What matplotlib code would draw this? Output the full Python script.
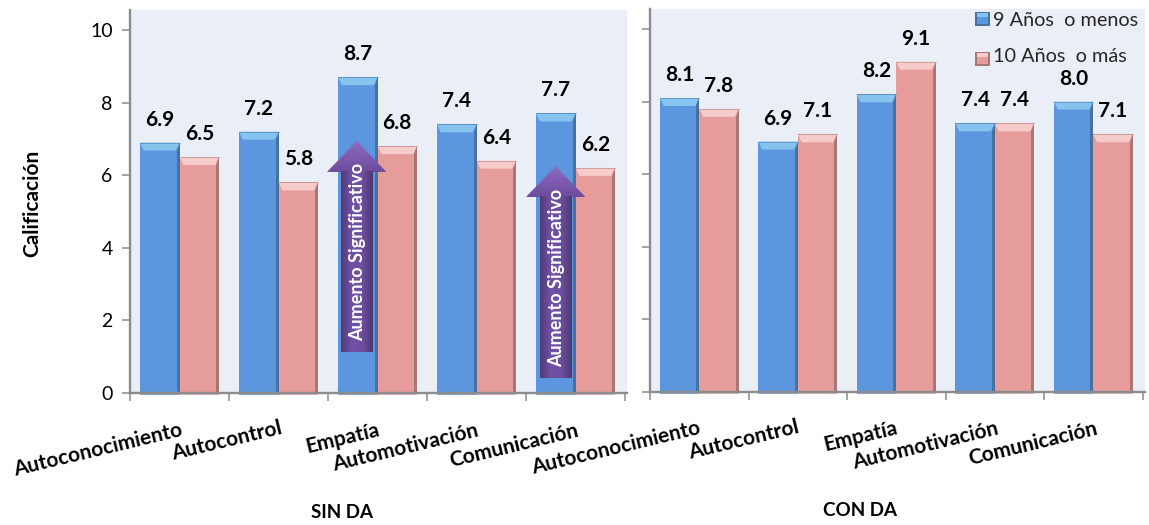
from matplotlib.colors import LinearSegmentedColormap
from matplotlib.patches import Polygon, Rectangle
from numpy import linspace

import matplotlib.pyplot as plt

plt.rcParams['font.family'] = ['Lato', 'DejaVu Sans']

W, H = 1149, 525

CATEGORIES = ['Autoconocimiento', 'Autocontrol', 'Empatía', 'Automotivación', 'Comunicación']
TICKS = [0, 2, 4, 6, 8, 10]
SERIES_NAMES = ['9 Años  o menos', '10 Años  o más']

SIN_DA_MENOS = [6.9, 7.2, 8.7, 7.4, 7.7]
SIN_DA_MAS = [6.5, 5.8, 6.8, 6.4, 6.2]
CON_DA_MENOS = [8.1, 6.9, 8.2, 7.4, 8.0]
CON_DA_MAS = [7.8, 7.1, 9.1, 7.4, 7.1]

BLUE = {'face': '#5B96DE', 'top': '#86C4EF', 'side': '#47719F', 'base': '#7FA6D6'}
RED = {'face': '#E59C9A', 'top': '#F6CBC9', 'side': '#A87674', 'base': '#E8B4B2'}

# label end offsets in pixels from each group's centre, below the axis
LEFT_LABEL_OFFSETS = [(3, -37), (3, -35), (2, -37), (2, -37), (3, -37)]
RIGHT_LABEL_OFFSETS = [(1, -36), (1, -35), (1, -36), (3, -36), (4, -36)]

BEVEL_H = 0.22
BEVEL_X = 0.04
SIDE_W = 0.03
BAR_W = 0.4
PX_PER_UNIT = 36.3


def fig_xy(x, y):
    return x / W, 1 - y / H


def add_axes(fig, left, right, top, bottom, group_px):
    ax = fig.add_axes([left / W, 1 - bottom / H, (right - left) / W, (bottom - top) / H])
    ax.set_facecolor('#EAEFF7')
    ax.set_xlim(0, (right - left) / group_px)
    ax.set_ylim(0, (bottom - top) / PX_PER_UNIT)
    ax.set_yticks(TICKS)
    ax.set_xticks(range(6))
    ax.set_xticklabels([])
    ax.tick_params(axis='both', length=5.5, width=1.1, color='#8C8C8C', labelsize=14, pad=7)
    for side in ['top', 'right']:
        ax.spines[side].set_visible(False)
    for side in ['left', 'bottom']:
        ax.spines[side].set_color('#8C8C8C')
        ax.spines[side].set_linewidth(1.7)
        ax.spines[side].set_zorder(6)
    return ax


def draw_bar(ax, x, value, colors):
    """Flat bar with a lighter bevel on top and a dark strip on its right edge."""
    ax.bar(x, value, BAR_W, align='edge', color=colors['face'], zorder=2)
    # small lip that hangs under the axis line
    ax.bar(x, -0.06, BAR_W, align='edge', color=colors['base'], zorder=2, clip_on=False)
    ax.add_patch(Polygon(
        [(x, value), (x + BAR_W, value),
         (x + BAR_W - BEVEL_X, value - BEVEL_H), (x + BEVEL_X, value - BEVEL_H)],
        facecolor=colors['top'], edgecolor='none', zorder=3
    ))
    ax.add_patch(Polygon(
        [(x + BAR_W, value), (x + BAR_W, 0), (x + BAR_W - SIDE_W, 0),
         (x + BAR_W - SIDE_W, value - BEVEL_H)],
        facecolor=colors['side'], edgecolor='none', zorder=3
    ))
    ax.plot([x, x + BAR_W], [value, value], color=colors['side'], lw=0.6, alpha=0.6, zorder=4)
    ax.annotate(
        f'{value:.1f}', (x + BAR_W / 2, value), xytext=(0, 23),
        textcoords='offset pixels', ha='center', va='center',
        fontsize=15, fontweight='bold', color='black', zorder=7
    )


def draw_panel(ax, menos, mas, offsets):
    for i, (a, b) in enumerate(zip(menos, mas)):
        draw_bar(ax, i + 0.5 - BAR_W, a, BLUE)
        draw_bar(ax, i + 0.5, b, RED)
    for i, name in enumerate(CATEGORIES):
        ax.annotate(
            name, (i + 0.5, 0), xytext=offsets[i], textcoords='offset pixels',
            ha='right', va='center', rotation=13.5, rotation_mode='anchor',
            fontsize=15, fontweight='bold', annotation_clip=False
        )


def draw_arrow(ax, centre, tip, base, bottom):
    """Purple up arrow: vertical gradient on the head, side-to-side shading on the shaft."""
    head = 0.3
    body = 0.16
    head_shape = Polygon(
        [(centre, tip), (centre + head, base), (centre - head, base)],
        transform=ax.transData, facecolor='none', edgecolor='none'
    )
    ax.add_patch(head_shape)
    head_cmap = LinearSegmentedColormap.from_list('head', ['#8F6CC0', '#7E5BB0', '#6D4C9E'])
    img = ax.imshow(
        linspace(0, 1, 64).reshape(-1, 1), cmap=head_cmap, aspect='auto', origin='upper',
        extent=(centre - head, centre + head, base, tip), zorder=5
    )
    img.set_clip_path(head_shape)
    body_cmap = LinearSegmentedColormap.from_list('body', ['#523A78', '#7052A6', '#6C4F9F', '#4F3873'])
    ax.imshow(
        linspace(0, 1, 64).reshape(1, -1), cmap=body_cmap, aspect='auto',
        extent=(centre - body, centre + body, bottom, base), zorder=5
    )
    ax.text(
        centre + 0.01, (bottom + base) / 2 + 0.27, 'Aumento Significativo',
        rotation=90, ha='center', va='center', color='white',
        fontsize=13, fontweight='bold', zorder=6
    )


def draw_legend(fig):
    tops = [12, 52]
    text_y = [20, 57]
    for y, ty, name, colors in zip(tops, text_y, SERIES_NAMES, [BLUE, RED]):
        x0, y0 = fig_xy(975, y + 14)
        fig.add_artist(Rectangle((x0, y0), 15 / W, 14 / H, transform=fig.transFigure,
                                 facecolor=colors['side'], edgecolor='none'))
        x1, y1 = fig_xy(977, y + 12)
        fig.add_artist(Rectangle((x1, y1), 11 / W, 11 / H, transform=fig.transFigure,
                                 facecolor=colors['face'], edgecolor='none'))
        x2, y2 = fig_xy(977, y + 5)
        fig.add_artist(Rectangle((x2, y2), 11 / W, 4 / H, transform=fig.transFigure,
                                 facecolor=colors['top'], edgecolor='none'))
        fig.text(*fig_xy(993, ty), name, ha='left', va='center', fontsize=14.3, color='#262626')


fig = plt.figure(figsize=(W / 100, H / 100), dpi=100, facecolor='white')

ax_sin = add_axes(fig, 130, 627, 10, 393, 99)
ax_con = add_axes(fig, 650, 1145, 9, 392, 98.5)
ax_con.set_yticklabels([])

draw_panel(ax_sin, SIN_DA_MENOS, SIN_DA_MAS, LEFT_LABEL_OFFSETS)
draw_panel(ax_con, CON_DA_MENOS, CON_DA_MAS, RIGHT_LABEL_OFFSETS)

sin_limits = ax_sin.get_xlim(), ax_sin.get_ylim()
draw_arrow(ax_sin, 2.29, 6.94, 6.09, 1.13)
draw_arrow(ax_sin, 4.30, 6.25, 5.40, 0.41)
ax_sin.set_xlim(sin_limits[0])
ax_sin.set_ylim(sin_limits[1])

fig.text(*fig_xy(32, 203), 'Calificación', rotation=90, ha='center', va='center',
         fontsize=15, fontweight='bold')
fig.text(*fig_xy(342, 512), 'SIN DA', ha='center', va='center', fontsize=13.5, fontweight='bold')
fig.text(*fig_xy(860, 511), 'CON DA', ha='center', va='center', fontsize=13.5, fontweight='bold')

draw_legend(fig)

fig.savefig('out.png', dpi=100)
